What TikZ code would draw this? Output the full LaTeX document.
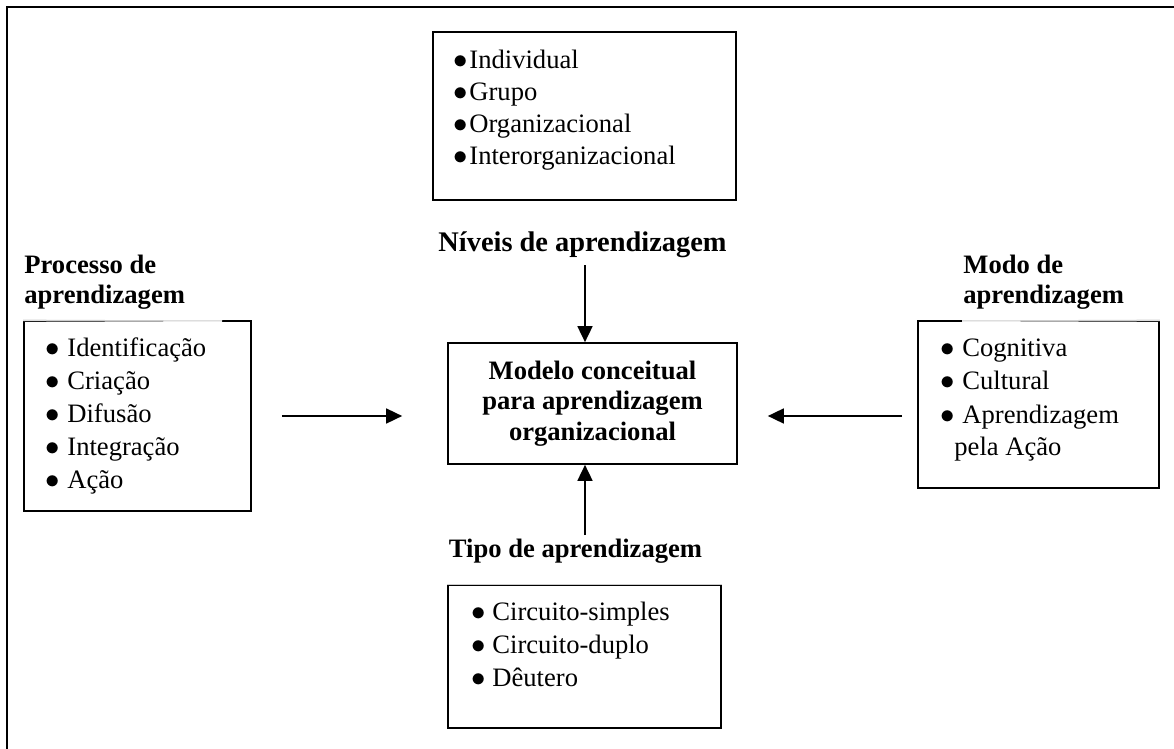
\documentclass[tikz,border=0pt]{standalone}
\usepackage{fontspec}
\setmainfont{Liberation Serif}
\usetikzlibrary{arrows.meta}

% bullet set in a box of given width
\newcommand\blt[1]{\makebox[#1][l]{$\bullet$}}

\begin{document}
\begin{tikzpicture}[x=0.5pt,y=-0.5pt,
  frame/.style={line width=1.15pt},
  box/.style={draw, line width=0.85pt, inner sep=0pt},
  txt/.style={inner sep=0pt, anchor=base west},
  head/.style={inner sep=0pt, font=\bfseries\fontsize{13.3}{15}\selectfont},
  arr/.style={line width=0.85pt, -{Triangle[length=8pt,width=7.5pt]}},
  faint/.style={draw=black!20, line width=0.5pt}]

\useasboundingbox (0,0) rectangle (1174,749);

% outer frame (top and left edges)
\draw[frame] (7,749) -- (7,7) -- (1174,7);

% boxes
\node[box, minimum width=151.5pt, minimum height=84pt] (lvlbox) at (584.5,116) {};
\node[box, minimum width=144.5pt, minimum height=60.5pt, align=center,
      font=\bfseries\fontsize{13.3}{15.25}\selectfont] (model) at (592.5,403.5)
      {Modelo conceitual\\para aprendizagem\\organizacional};
\node[box, minimum width=136.5pt, minimum height=71.5pt] (typebox) at (584.5,656.5) {};
\node[box, minimum width=113.5pt, minimum height=95pt] (procbox) at (137.5,416) {};
\node[box, minimum width=120.5pt, minimum height=83.5pt] (modebox) at (1038.5,404.5) {};

% light top edges
\draw[white, line width=1pt] (procbox.north west) -- (222,321);
\draw[faint] (procbox.north west) -- (222,321);
\draw[white, line width=1pt] (typebox.north west) -- (typebox.north east);
\draw[faint] (typebox.north west) -- (typebox.north east);
\draw[white, line width=1pt] (962,321) -- (modebox.north east);
\draw[faint] (962,321) -- (modebox.north east);

% lists
\node[txt, font=\fontsize{13.3}{16}\selectfont] (lvllist) at (453,69)
  {\begin{tabular}[t]{@{}l@{}}
   \blt{8pt}Individual\\
   \blt{8pt}Grupo\\
   \blt{8pt}Organizacional\\
   \blt{8pt}Interorganizacional
   \end{tabular}};
\node[txt, font=\fontsize{13.3}{16.4}\selectfont] (proclist) at (45,357)
  {\begin{tabular}[t]{@{}l@{}}
   \blt{11pt}Identificação\\
   \blt{11pt}Criação\\
   \blt{11pt}Difusão\\
   \blt{11pt}Integração\\
   \blt{11pt}Ação
   \end{tabular}};
\node[txt, font=\fontsize{13.3}{16.5}\selectfont] (modelist) at (940,357)
  {\begin{tabular}[t]{@{}l@{}}
   \blt{11pt}Cognitiva\\
   \blt{11pt}Cultural\\
   \blt{11pt}Aprendizagem\\
   \hspace{7pt}pela Ação
   \end{tabular}};
\node[txt, font=\fontsize{13.3}{16.5}\selectfont] (typelist) at (471,620.5)
  {\begin{tabular}[t]{@{}l@{}}
   \blt{10.5pt}Circuito-simples\\
   \blt{10.5pt}Circuito-duplo\\
   \blt{10.5pt}Dêutero
   \end{tabular}};

% headings
\node[head, anchor=base, font=\bfseries\fontsize{14.2}{15}\selectfont] (lvlhead) at (582.5,251) {Níveis de aprendizagem};
\node[head, anchor=base] (typehead) at (575.5,557) {Tipo de aprendizagem};
\node[head, anchor=base west, align=left] (prochead) at (24,273)
  {\begin{tabular}[t]{@{}l@{}}Processo de\\aprendizagem\end{tabular}};
\node[head, anchor=base west, align=left] (modehead) at (963,273)
  {\begin{tabular}[t]{@{}l@{}}Modo de\\aprendizagem\end{tabular}};

% connectors
\coordinate (topstart) at (585,265);
\coordinate (botstart) at (585,535);
\draw[arr] (topstart) -- (topstart |- model.north);
\draw[arr] (botstart) -- (botstart |- model.south);
\draw[arr, shorten <=15pt, shorten >=22.5pt] (procbox.east) -- (model.west |- procbox.east);
\draw[arr, shorten <=7.5pt, shorten >=15pt] (modebox.west |- procbox.east) -- (model.east |- procbox.east);

\end{tikzpicture}
\end{document}
